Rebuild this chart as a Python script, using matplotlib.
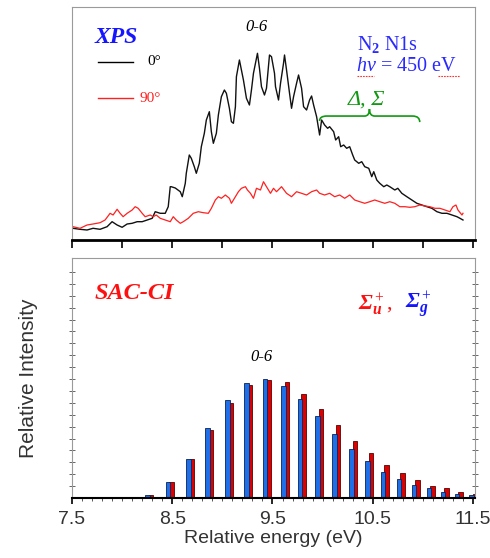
import numpy as np
import matplotlib.pyplot as plt
from matplotlib.path import Path
from matplotlib.patches import PathPatch

plt.rcParams['font.family'] = ['Liberation Serif', 'DejaVu Serif']
plt.rcParams['mathtext.fontset'] = 'custom'
plt.rcParams['mathtext.rm'] = 'Liberation Serif'
plt.rcParams['mathtext.it'] = 'Liberation Serif:italic'
plt.rcParams['mathtext.bf'] = 'Liberation Serif:bold'
plt.rcParams['mathtext.bfit'] = 'Liberation Serif:bold:italic'

# XPS spectrum, 0 deg (black)
xps0_energy = [7.51, 7.58, 7.65, 7.71, 7.78, 7.85, 7.90, 7.95, 8.00, 8.05, 8.10, 8.15, 8.20, 8.25,
               8.30, 8.33, 8.38, 8.43, 8.46, 8.48, 8.49, 8.53, 8.58, 8.60, 8.63, 8.64, 8.67, 8.69,
               8.72, 8.74, 8.77, 8.79, 8.82, 8.84, 8.87, 8.89, 8.91, 8.94, 8.96, 8.99, 9.02, 9.04,
               9.07, 9.09, 9.11, 9.13, 9.14, 9.17, 9.19, 9.21, 9.24, 9.27, 9.29, 9.31, 9.34, 9.35,
               9.37, 9.39, 9.42, 9.44, 9.47, 9.49, 9.52, 9.53, 9.56, 9.58, 9.61, 9.62, 9.64, 9.67,
               9.69, 9.71, 9.74, 9.76, 9.79, 9.81, 9.84, 9.87, 9.89, 9.91, 9.94, 9.97, 9.99, 10.02,
               10.05, 10.07, 10.11, 10.13, 10.16, 10.18, 10.21, 10.24, 10.27, 10.30, 10.32, 10.36,
               10.39, 10.42, 10.46, 10.49, 10.51, 10.54, 10.57, 10.61, 10.64, 10.67, 10.72, 10.75,
               10.79, 10.84, 10.89, 10.94, 10.99, 11.04, 11.09, 11.14, 11.19, 11.24, 11.29, 11.34,
               11.37, 11.40]
xps0_counts = [11.7, 10.7, 10, 11.7, 10.7, 13.3, 18.3, 15, 12.7, 16, 16.7, 18.3, 18.3, 20,
               21.7, 28.3, 26.7, 26.7, 33.3, 53.3, 53.3, 52, 48.3, 43.3, 56.7, 66.7, 85, 81.7,
               73.3, 66.7, 76.7, 93.3, 106.7, 120, 128.3, 108.3, 96.7, 106.7, 125, 143.3, 150, 146.7,
               131.7, 118.3, 116.7, 133.3, 163.3, 180, 170, 160, 141.7, 135, 150, 166.7, 181.7, 186.7,
               171.7, 153.3, 145, 151.7, 185, 183.3, 166.7, 153.3, 140, 156.7, 176.7, 185, 170, 146.7,
               131.7, 143.3, 156.7, 165, 151.7, 133.3, 130, 140, 144, 135, 123.3, 105, 120, 115,
               111.7, 113.3, 108.3, 100, 103.3, 93.3, 95, 91.7, 93.3, 85, 80, 76.7,
               78.3, 73.3, 71.7, 63.3, 68.3, 60, 56.7, 53.3, 55, 53.3, 50, 51.7,
               46.7, 43.3, 40, 36.7, 35, 33.3, 31.7, 28.3, 26.7, 26.7, 25, 23.3,
               21.7, 20]

# XPS spectrum, 90 deg (red)
xps90_energy = [7.51, 7.58, 7.65, 7.71, 7.78, 7.83, 7.88, 7.91, 7.95, 7.98, 8.01, 8.05, 8.10, 8.13,
                8.16, 8.20, 8.23, 8.28, 8.31, 8.34, 8.38, 8.43, 8.48, 8.51, 8.54, 8.58, 8.61, 8.66,
                8.71, 8.76, 8.81, 8.86, 8.89, 8.93, 8.96, 8.99, 9.03, 9.07, 9.09, 9.13, 9.16, 9.19,
                9.23, 9.25, 9.28, 9.31, 9.34, 9.38, 9.41, 9.44, 9.48, 9.51, 9.54, 9.59, 9.64, 9.69,
                9.74, 9.79, 9.84, 9.89, 9.94, 9.97, 10.02, 10.07, 10.12, 10.17, 10.22, 10.27, 10.32,
                10.37, 10.42, 10.47, 10.52, 10.57, 10.62, 10.67, 10.72, 10.77, 10.82, 10.87, 10.92,
                10.97, 11.02, 11.07, 11.12, 11.17, 11.22, 11.27, 11.30, 11.33, 11.35, 11.39, 11.40]
xps90_counts = [13.3, 11.7, 15, 16, 17.3, 20, 26.7, 25, 30.7, 26.7, 23.3, 26.7, 30, 33.3,
                31.7, 26.7, 23.3, 25, 23.3, 25, 21.7, 20, 18.3, 23.3, 20, 16.7, 18.3, 21.7,
                26.7, 28.3, 27.3, 26.7, 31.7, 40, 43.3, 41.7, 45, 41.7, 36.7, 43.3, 48.3, 51.7,
                53.3, 50, 46.7, 41.7, 51.7, 50, 58.3, 53.3, 46.7, 51.7, 48.3, 53.3, 46.7, 43.3,
                48.3, 46.7, 45, 48.3, 50, 46.7, 45, 46.7, 43.3, 45, 41.7, 45, 40,
                38.3, 36.7, 38.3, 40, 38.3, 36.7, 38.3, 36.7, 33.3, 33.3, 32.7, 33.3,
                35, 34, 33.3, 31.7, 31.7, 30, 28.3, 33.3, 35, 30, 25, 26.7]

# SAC-CI vibrational lines
sg_energy = [8.255, 8.46, 8.66, 8.85, 9.05, 9.24, 9.425, 9.61, 9.775, 9.95,
             10.12, 10.29, 10.45, 10.60, 10.76, 10.91, 11.06, 11.20, 11.34, 11.485]
sg_intensity = [2.2, 13.1, 33.0, 59.1, 82.0, 96.6, 100, 94.4, 83.2, 68.6,
                53.8, 41.4, 31.3, 22.1, 16.2, 11.2, 8.4, 4.7, 3.4, 2.5]
su_energy = [8.29, 8.495, 8.695, 8.885, 9.085, 9.275, 9.46, 9.645, 9.81, 9.985,
             10.155, 10.325, 10.485, 10.635, 10.795, 10.945, 11.095, 11.235, 11.375, 11.52]
su_intensity = [2.8, 13.7, 32.8, 57.4, 80.1, 95.2, 99.4, 97.1, 87.6, 75.0,
                61.0, 48.2, 37.5, 28.0, 21.0, 15.4, 9.7, 8.4, 5.0, 3.4]

major_ticks = [7.5, 8.5, 9.5, 10.5, 11.5]
top_ticks = [7.5, 8.0, 8.5, 9.0, 9.5, 10.0, 10.5, 11.0, 11.5]

fig = plt.figure(figsize=(4.9, 5.58), dpi=100)
ax1 = fig.add_axes([72 / 490, 1 - 240 / 558, 402.5 / 490, 233 / 558])
ax2 = fig.add_axes([72 / 490, 1 - 498 / 558, 402.5 / 490, 240 / 558])

# ---- top panel: XPS ----
ax1.plot(xps0_energy, xps0_counts, color='#111111', lw=1.0)
ax1.plot(xps90_energy, xps90_counts, color='#ff2020', lw=0.9)
ax1.set_xlim(7.5, 11.515)
ax1.set_ylim(0, 233)
ax1.set_yticks([])
ax1.set_xticks(top_ticks)
ax1.set_xticklabels([])
ax1.tick_params(axis='x', direction='out', length=5.5, width=1.2, color='black')
for s in ['top', 'left', 'right']:
    ax1.spines[s].set_color('#9a9a9a')
    ax1.spines[s].set_linewidth(0.8)
ax1.spines['bottom'].set_linewidth(2)

ax1.text(0.057, 0.871, 'XPS', transform=ax1.transAxes, color='#1515ff', fontsize=17,
         fontweight='bold', fontstyle='italic', ha='left', va='center')
ax1.plot([0.065, 0.151], [0.764, 0.764], transform=ax1.transAxes, color='black', lw=1)
ax1.plot([0.065, 0.151], [0.609, 0.609], transform=ax1.transAxes, color='#ff2020', lw=1)
ax1.text(0.221, 0.764, '0°', transform=ax1.transAxes, fontsize=11, ha='right', va='center')
ax1.text(0.221, 0.609, '90°', transform=ax1.transAxes, fontsize=11, ha='right', va='center',
         color='#ff2020')
ax1.text(0.459, 0.914, '0-6', transform=ax1.transAxes, fontsize=12, fontstyle='italic',
         ha='center', va='center')
ax1.text(0.708, 0.837, r'N$_\mathbf{2}$ N1s', transform=ax1.transAxes, fontsize=14.5,
         color='#2a2aff', ha='left', va='center')
ax1.text(0.706, 0.746, r'$\mathit{hv}$ = 450 eV', transform=ax1.transAxes, fontsize=14.5,
         color='#2a2aff', ha='left', va='center')
# spell-check squiggles under "hv" and "eV"
ax1.plot([0.708, 0.750], [0.706, 0.706], transform=ax1.transAxes, color='#ff3030',
         lw=0.8, ls=(0, (1.5, 1)))
ax1.plot([0.910, 0.963], [0.706, 0.706], transform=ax1.transAxes, color='#ff3030',
         lw=0.8, ls=(0, (1.5, 1)))
ax1.text(0.731, 0.601, 'Δ, Σ', transform=ax1.transAxes, fontsize=16, fontstyle='italic',
         color='#119911', ha='center', va='center')

# curly brace under the label
verts = [(0.615, 0.511), (0.615, 0.532), (0.633, 0.532),
         (0.727, 0.532), (0.739, 0.532), (0.739, 0.562),
         (0.739, 0.532), (0.752, 0.532),
         (0.846, 0.532), (0.864, 0.532), (0.864, 0.506)]
codes = [Path.MOVETO, Path.CURVE3, Path.CURVE3,
         Path.LINETO, Path.CURVE3, Path.CURVE3,
         Path.CURVE3, Path.CURVE3,
         Path.LINETO, Path.CURVE3, Path.CURVE3]
ax1.add_patch(PathPatch(Path(verts, codes), transform=ax1.transAxes, fill=False,
                        edgecolor='#119911', lw=1.2))

# ---- bottom panel: SAC-CI ----
ax2.bar(su_energy, su_intensity, width=0.045, color='#dd0000', edgecolor='#5a0000', lw=0.6)
ax2.bar(sg_energy, sg_intensity, width=0.045, color='#1f6fe8', edgecolor='#0a2455', lw=0.6)
ax2.set_xlim(7.5, 11.515)
ax2.set_ylim(0, 201.7)
ax2.set_xticks(major_ticks)
ax2.set_xticklabels(['7.5', '8.5', '9.5', '10.5', '11.5'], fontfamily='Liberation Sans',
                    fontsize=14, color='#333333')
ax2.set_xticks(np.arange(7.5, 11.55, 0.1), minor=True)
ax2.tick_params(axis='x', which='major', direction='out', length=4, width=1.2, pad=5)
ax2.tick_params(axis='x', which='minor', direction='out', length=2.5, width=0.7,
                color='#555555')
ax2.set_yticks(np.arange(10, 200, 10))
ax2.set_yticklabels([])
ax2.tick_params(axis='y', direction='inout', length=4, width=0.7, color='#666666',
                left=True, right=True)
for s in ['top', 'left', 'right']:
    ax2.spines[s].set_color('#9a9a9a')
    ax2.spines[s].set_linewidth(0.8)
ax2.spines['bottom'].set_linewidth(1.5)

ax2.set_xlabel('Relative energy (eV)', fontfamily='Liberation Sans', fontsize=14,
               color='#333333', labelpad=2)
fig.text(28 / 490, 1 - 378 / 558, 'Relative Intensity', rotation=90,
         fontfamily='Liberation Sans', fontsize=15, color='#333333', ha='center', va='center')

ax2.text(0.057, 0.854, 'SAC-CI', transform=ax2.transAxes, color='#ff1010', fontsize=17.5,
         fontweight='bold', fontstyle='italic', ha='left', va='center')
ax2.text(0.710, 0.804, r'$\mathbfit{\Sigma}_\mathbfit{u}^+$,', transform=ax2.transAxes,
         color='#ff1010', fontsize=16, ha='left', va='center')
ax2.text(0.827, 0.804, r'$\mathbfit{\Sigma}_\mathbfit{g}^+$', transform=ax2.transAxes,
         color='#1515ff', fontsize=16, ha='left', va='center')
ax2.text(0.471, 0.5875, '0-6', transform=ax2.transAxes, fontsize=12, fontstyle='italic',
         ha='center', va='center')

fig.savefig('out.png', dpi=100, facecolor='white')
